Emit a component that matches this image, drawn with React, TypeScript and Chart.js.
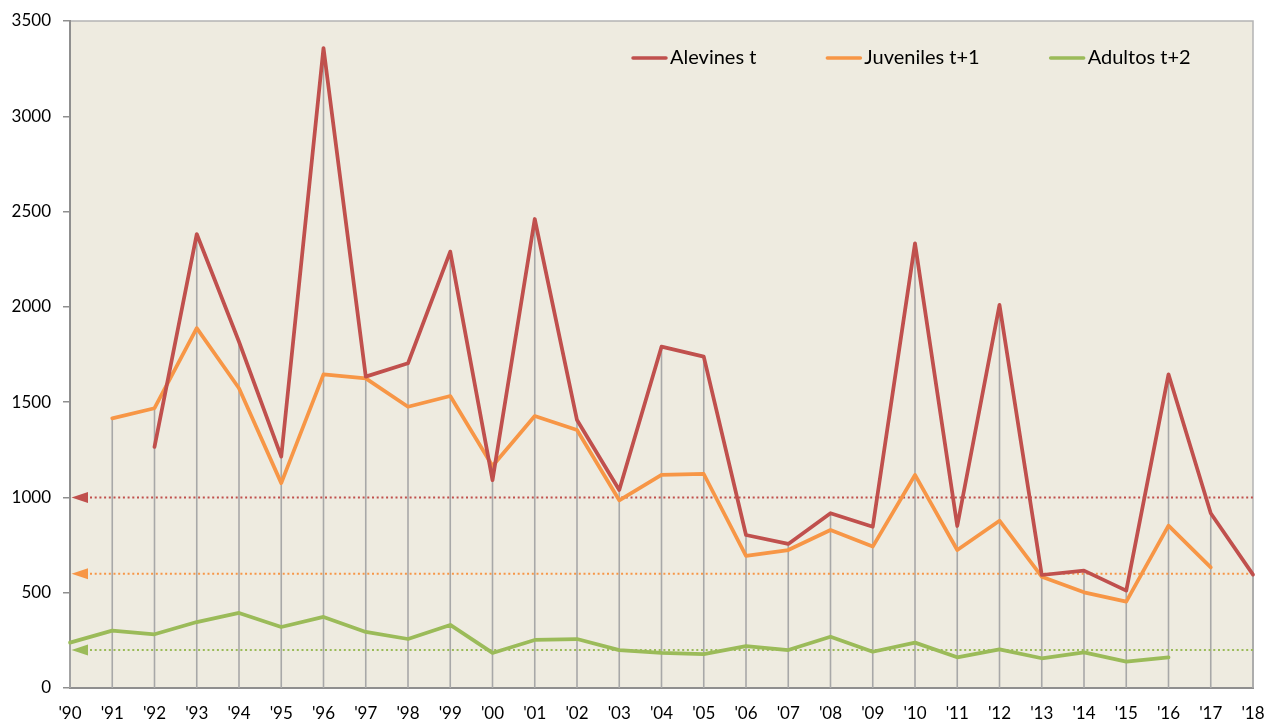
import React, { useEffect, useRef } from "react";
import { Chart, registerables } from "chart.js";

Chart.register(...registerables);

const years = ["'90", "'91", "'92", "'93", "'94", "'95", "'96", "'97", "'98", "'99", "'00", "'01", "'02", "'03", "'04", "'05", "'06", "'07", "'08", "'09", "'10", "'11", "'12", "'13", "'14", "'15", "'16", "'17", "'18"];

const alevines = [null, null, 1265, 2382, 1817, 1214, 3358, 1634, 1704, 2290, 1091, 2461, 1406, 1039, 1791, 1739, 803, 756, 917, 846, 2333, 850, 2010, 593, 616, 511, 1646, 917, 595];
const juveniles = [null, 1415, 1468, 1888, 1573, 1075, 1646, 1625, 1476, 1532, 1165, 1427, 1354, 985, 1118, 1123, 693, 724, 829, 742, 1118, 724, 878, 584, 502, 453, 852, 633, null];
const adultos = [238, 301, 282, 346, 394, 320, 373, 294, 257, 331, 184, 252, 257, 199, 184, 178, 220, 199, 269, 190, 238, 161, 203, 156, 187, 138, 161, null, null];

const seriesLabels = ["Alevines t", "Juveniles t+1", "Adultos t+2"];
const seriesColors = ["#C0504D", "#F79646", "#9BBB59"];
const thresholds = [1000, 600, 200];

const yTicks = [0, 500, 1000, 1500, 2000, 2500, 3000, 3500];

const FONT = "Lato, 'Open Sans', sans-serif";

const backgroundPlugin = {
  id: "plotBg",
  beforeDraw(chart: any) {
    const { ctx, chartArea } = chart;
    ctx.save();
    ctx.fillStyle = "#EEEBE0";
    ctx.fillRect(chartArea.left, chartArea.top, chartArea.right - chartArea.left, chartArea.bottom - chartArea.top);
    ctx.strokeStyle = "#B4B4B4";
    ctx.lineWidth = 1.5;
    ctx.beginPath();
    ctx.moveTo(chartArea.left, chartArea.top);
    ctx.lineTo(chartArea.right, chartArea.top);
    ctx.lineTo(chartArea.right, chartArea.bottom);
    ctx.stroke();
    ctx.restore();
  },
};

const dropLinesPlugin = {
  id: "dropLines",
  beforeDatasetsDraw(chart: any) {
    const { ctx, chartArea, scales } = chart;
    const xs = scales.x;
    const ys = scales.y;
    ctx.save();
    ctx.strokeStyle = "#A8A8A8";
    ctx.lineWidth = 1.6;
    const n = chart.data.labels.length;
    for (let i = 0; i < n; i++) {
      let mx: number | null = null;
      chart.data.datasets.forEach((ds: any) => {
        const v = ds.data[i];
        if (v !== null && v !== undefined && (mx === null || v > mx)) mx = v;
      });
      if (mx === null) continue;
      const x = xs.getPixelForValue(i);
      ctx.beginPath();
      ctx.moveTo(x, ys.getPixelForValue(mx));
      ctx.lineTo(x, chartArea.bottom);
      ctx.stroke();
    }
    thresholds.forEach((t, k) => {
      const y = ys.getPixelForValue(t);
      ctx.strokeStyle = seriesColors[k];
      ctx.fillStyle = seriesColors[k];
      ctx.lineWidth = 2;
      ctx.setLineDash([2, 2.7]);
      ctx.beginPath();
      ctx.moveTo(chartArea.left + 20, y);
      ctx.lineTo(chartArea.right, y);
      ctx.stroke();
      ctx.setLineDash([]);
      ctx.beginPath();
      ctx.moveTo(chartArea.left + 1.5, y);
      ctx.lineTo(chartArea.left + 18, y - 5.5);
      ctx.lineTo(chartArea.left + 18, y + 5.5);
      ctx.closePath();
      ctx.fill();
    });
    ctx.restore();
  },
};

const legendPlugin = {
  id: "customLegend",
  afterDraw(chart: any) {
    const { ctx } = chart;
    ctx.save();
    ctx.font = `20px ${FONT}`;
    ctx.textBaseline = "middle";
    let x = 632;
    const y = 58;
    chart.data.datasets.forEach((ds: any) => {
      ctx.strokeStyle = ds.borderColor;
      ctx.lineWidth = 3.5;
      ctx.lineCap = "round";
      ctx.beginPath();
      ctx.moveTo(x + 1, y);
      ctx.lineTo(x + 34, y);
      ctx.stroke();
      ctx.fillStyle = "#000";
      ctx.fillText(ds.label, x + 38, y);
      x += 38 + ctx.measureText(ds.label).width + 70;
    });
    ctx.restore();
  },
};

export default function App() {
  const ref = useRef<HTMLCanvasElement | null>(null);
  useEffect(() => {
    document.body.style.margin = "0";
    const canvas = ref.current;
    if (!canvas) return;
    const series = [alevines, juveniles, adultos];
    const chart = new Chart(canvas, {
      type: "line",
      data: {
        labels: years,
        datasets: series.map((d, k) => ({
          label: seriesLabels[k],
          data: d,
          borderColor: seriesColors[k],
          backgroundColor: seriesColors[k],
          borderWidth: 3.75,
          borderJoinStyle: "round",
          borderCapStyle: "round",
          pointRadius: 0,
          tension: 0,
          spanGaps: false,
        })),
      },
      options: {
        responsive: false,
        animation: false,
        devicePixelRatio: 1,
        layout: { padding: { top: 21, right: 14, left: 0, bottom: 0 } },
        plugins: { legend: { display: false }, tooltip: { enabled: false } },
        scales: {
          x: {
            type: "category",
            offset: false,
            grid: { display: false },
            border: { display: true, color: "#8F8F8F", width: 2 },
            ticks: { color: "#000", font: { family: FONT, size: 17 }, padding: 7, autoSkip: false, maxRotation: 0 },
            afterFit(scale: any) {
              scale.height = 36;
              scale.paddingLeft = 0;
              scale.paddingRight = 0;
            },
          },
          y: {
            min: 0,
            max: 3500,
            afterBuildTicks(scale: any) { scale.ticks = yTicks.map((v) => ({ value: v })); },
            grid: { drawOnChartArea: false, drawTicks: true, tickLength: 7, color: "#8F8F8F", lineWidth: 1.5 },
            border: { display: true, color: "#8F8F8F", width: 2 },
            ticks: { color: "#000", font: { family: FONT, size: 17 }, padding: 12, callback: (v: any) => String(v) },
            afterFit(scale: any) {
              scale.width = 70;
              scale.paddingTop = 0;
              scale.paddingBottom = 0;
            },
          },
        },
      },
      plugins: [backgroundPlugin, dropLinesPlugin, legendPlugin],
    });
    return () => chart.destroy();
  }, []);
  return <canvas ref={ref} width={1267} height={724} style={{ display: "block" }} />;
}
